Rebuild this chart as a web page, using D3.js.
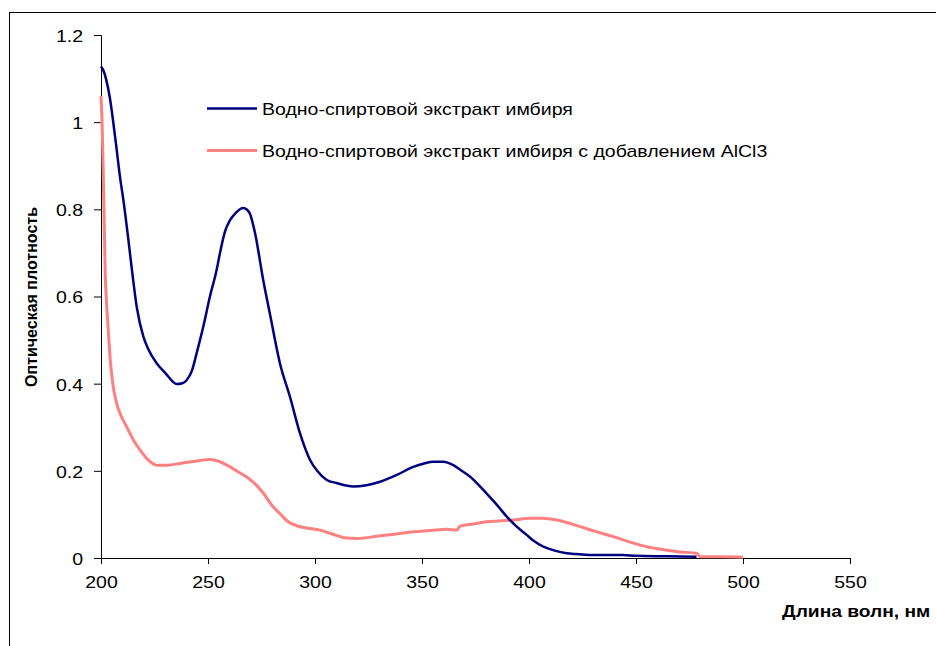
<!DOCTYPE html>
<html>
<head>
<meta charset="utf-8">
<script src="https://cdn.jsdelivr.net/npm/d3@7"></script>
<style>
  body { margin: 0; background: #fff; }
  text { font-family: "Liberation Sans", Arial, sans-serif; }
</style>
</head>
<body>
<svg id="chart"></svg>
<script>
const WIDTH = 936;
const HEIGHT = 646;
const STRETCH = 1.22; // the original text is drawn a bit wider than normal

// wavelength, nm
const blueX = [200, 201, 204, 207, 209, 210.5, 212.8, 214, 216.7, 219.8, 222, 226, 230, 235.4, 238, 240, 242.5, 244.7, 248, 250.9, 254, 255.6, 258, 260.3, 263, 266.5, 268, 269.6, 272, 275.8, 278.9, 283.6, 288.3, 293, 297.7, 301, 305.5, 310, 317.9, 324, 330.4, 338, 345.9, 351, 355.3, 360, 364.6, 368, 372.4, 376, 380.2, 385, 389.6, 394, 398.9, 402, 406.7, 412, 417.6, 422, 428.5, 444, 450, 464.3, 478.3];
const blueY = [1.128, 1.12, 1.06, 0.95, 0.87, 0.82, 0.73, 0.68, 0.576, 0.508, 0.48, 0.447, 0.425, 0.399, 0.401, 0.408, 0.43, 0.47, 0.535, 0.6, 0.66, 0.70, 0.75, 0.775, 0.792, 0.803, 0.8, 0.79, 0.745, 0.638, 0.561, 0.447, 0.37, 0.286, 0.225, 0.2, 0.179, 0.172, 0.164, 0.167, 0.175, 0.19, 0.209, 0.217, 0.221, 0.221, 0.213, 0.202, 0.187, 0.17, 0.148, 0.122, 0.095, 0.073, 0.053, 0.04, 0.026, 0.017, 0.011, 0.009, 0.007, 0.007, 0.005, 0.004, 0.003];

const redX = [200, 200.5, 201.1, 202, 202.7, 203.4, 204.2, 205.5, 207.3, 209.5, 212, 215, 218.2, 222, 226, 231, 236.9, 244, 250.9, 255, 260.3, 264, 268.1, 272, 276, 280, 283.6, 287, 291.4, 296, 302.3, 308, 314.8, 320, 330.4, 338, 345.9, 354, 361.5, 366.2, 367.8, 374, 380.2, 386, 392.7, 400.5, 406, 413, 418, 423.9, 431, 439.4, 447, 455, 463, 470.6, 478.3, 479.9, 490, 500];
const redY = [1.06, 1.0, 0.87, 0.65, 0.576, 0.523, 0.462, 0.4, 0.355, 0.325, 0.301, 0.272, 0.248, 0.225, 0.213, 0.213, 0.217, 0.222, 0.226, 0.222, 0.209, 0.198, 0.186, 0.17, 0.148, 0.12, 0.102, 0.085, 0.074, 0.069, 0.064, 0.055, 0.046, 0.045, 0.051, 0.055, 0.06, 0.063, 0.066, 0.064, 0.073, 0.078, 0.083, 0.085, 0.087, 0.091, 0.091, 0.087, 0.081, 0.072, 0.061, 0.049, 0.037, 0.026, 0.019, 0.014, 0.011, 0.003, 0.003, 0.002];

const seriesNames = ["Водно-спиртовой экстракт имбиря", "Водно-спиртовой экстракт имбиря с добавлением AlCl3"];
const xTicks = [200, 250, 300, 350, 400, 450, 500, 550];
const yTicks = [0, 0.2, 0.4, 0.6, 0.8, 1, 1.2];
const yTickLabels = ["0", "0.2", "0.4", "0.6", "0.8", "1", "1.2"];
const xTitle = "Длина волн, нм";
const yTitle = "Оптическая плотность";

let svg = d3.select("#chart")
    .attr("width", WIDTH)
    .attr("height", HEIGHT);

// frame of the chart area (cut off at right / bottom)
svg.append("rect")
    .attr("x", 9.5).attr("y", 12.5)
    .attr("width", 1000).attr("height", 1000)
    .attr("fill", "none")
    .attr("stroke", "#000")
    .attr("stroke-width", 1);

const x = d3.scaleLinear().domain([200, 550]).range([101, 850]);
const y = d3.scaleLinear().domain([0, 1.2]).range([558, 35]);

// axes
const xAxis = svg.append("g")
    .attr("transform", "translate(0,558)")
    .call(d3.axisBottom(x).tickValues(xTicks).tickSize(6).tickFormat(d3.format("d")));
const yAxis = svg.append("g")
    .attr("transform", "translate(101,0)")
    .call(d3.axisLeft(y).tickValues(yTicks).tickSize(7)
        .tickFormat((d, i) => yTickLabels[i]));

[xAxis, yAxis].forEach(function(a) {
    a.select(".domain").attr("stroke", "#000");
    a.selectAll(".tick line").attr("stroke", "#000");
    a.selectAll(".tick text")
        .attr("fill", "#000")
        .style("font-size", "16px")
        .style("font-family", "'Liberation Sans', Arial, sans-serif");
});
xAxis.selectAll(".tick text")
    .attr("y", 30).attr("dy", 0)
    .attr("transform", "scale(" + STRETCH + ",1)")
    .attr("x", 0);
yAxis.selectAll(".tick text")
    .attr("x", -18 / STRETCH).attr("dy", "0.4em")
    .attr("transform", "scale(" + STRETCH + ",1)");

// lines
const line = d3.line()
    .x(d => x(d[0]))
    .y(d => y(d[1]))
    .curve(d3.curveMonotoneX);

const redData = redX.map((v, i) => [v, redY[i]]);
const blueData = blueX.map((v, i) => [v, blueY[i]]);

svg.append("path")
    .datum(redData)
    .attr("d", line)
    .attr("fill", "none")
    .attr("stroke", "#ff8080")
    .attr("stroke-width", 3);

svg.append("path")
    .datum(blueData)
    .attr("d", line)
    .attr("fill", "none")
    .attr("stroke", "#000080")
    .attr("stroke-width", 2.5);

// legend
const legendColors = ["#000080", "#ff8080"];
const legendWidths = [2.5, 3];
seriesNames.forEach(function(name, i) {
    let ly = 108.5 + i * 42;
    svg.append("line")
        .attr("x1", 207).attr("x2", 257)
        .attr("y1", ly).attr("y2", ly)
        .attr("stroke", legendColors[i])
        .attr("stroke-width", legendWidths[i]);
    svg.append("text")
        .attr("transform", "translate(262," + (ly + 6.5) + ") scale(" + STRETCH + ",1)")
        .style("font-size", "16px")
        .text(name);
});

// axis titles
svg.append("text")
    .attr("transform", "translate(782,617) scale(1.2,1)")
    .style("font-size", "16px")
    .style("font-weight", "bold")
    .text(xTitle);

svg.append("text")
    .attr("transform", "translate(31,297) rotate(-90)")
    .attr("text-anchor", "middle")
    .attr("dy", "0.35em")
    .style("font-size", "16px")
    .style("font-weight", "bold")
    .text(yTitle);
</script>
</body>
</html>
